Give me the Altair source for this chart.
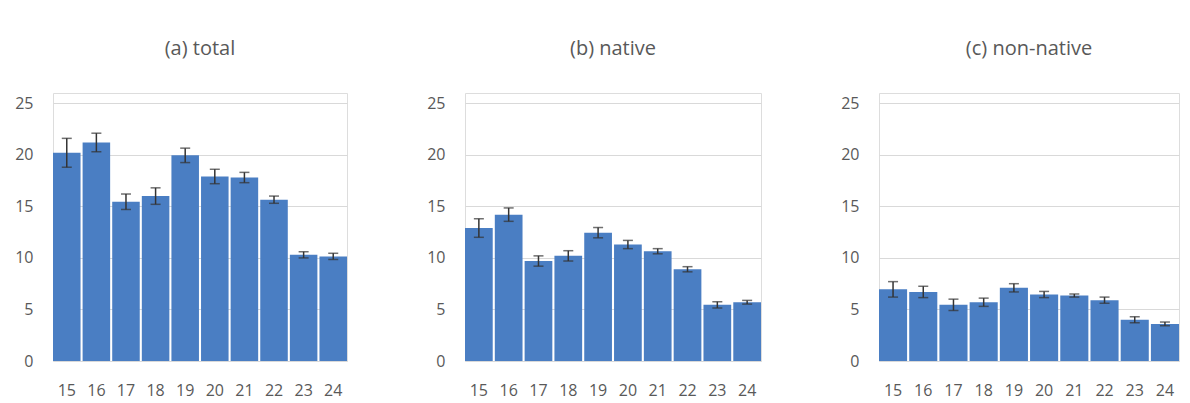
import altair as alt
import pandas as pd

categories = ["15", "16", "17", "18", "19", "20", "21", "22", "23", "24"]

total_vals = [20.2, 21.2, 15.45, 16.0, 19.95, 17.9, 17.8, 15.65, 10.3, 10.15]
total_err = [1.4, 0.9, 0.75, 0.8, 0.7, 0.7, 0.5, 0.35, 0.3, 0.3]

native_vals = [12.9, 14.2, 9.7, 10.2, 12.45, 11.3, 10.65, 8.9, 5.45, 5.7]
native_err = [0.9, 0.65, 0.5, 0.5, 0.5, 0.4, 0.25, 0.25, 0.3, 0.18]

nonnative_vals = [6.95, 6.7, 5.45, 5.7, 7.1, 6.45, 6.35, 5.9, 4.0, 3.6]
nonnative_err = [0.75, 0.55, 0.55, 0.4, 0.4, 0.3, 0.15, 0.3, 0.3, 0.18]

titles = ["(a) total", "(b) native", "(c) non-native"]
panels = [(total_vals, total_err), (native_vals, native_err), (nonnative_vals, nonnative_err)]
widths = [294, 296, 300]

BAR = "#4a7ec3"
GREY = "#595959"
FONT = "Open Sans"


def panel(title, vals, errs, w):
    df = pd.DataFrame({
        "cat": categories,
        "val": vals,
        "lo": [v - e for v, e in zip(vals, errs)],
        "hi": [v + e for v, e in zip(vals, errs)],
    })
    x = alt.X("cat:N", sort=categories,
              scale=alt.Scale(paddingInner=0.07, paddingOuter=0.0),
              axis=alt.Axis(title=None, labelAngle=0, ticks=False, domain=False,
                            labelPadding=21, labelFontSize=16, labelColor=GREY,
                            labelFont=FONT))
    y = alt.Y("val:Q", scale=alt.Scale(domain=[0, 25]),
              axis=alt.Axis(title=None, values=[0, 5, 10, 15, 20, 25], ticks=False,
                            domain=False, labelPadding=20, labelFontSize=16,
                            labelColor=GREY, labelFont=FONT, gridColor="#d9d9d9"))
    bars = alt.Chart(df).mark_bar(color=BAR).encode(x=x, y=y)
    rule = alt.Chart(df).mark_rule(color="#333333", strokeWidth=1.5).encode(
        x=alt.X("cat:N", sort=categories), y="lo:Q", y2="hi:Q")
    cap = alt.Chart(df).mark_tick(color="#333333", thickness=1.5, size=10,
                                  orient="horizontal").encode(
        x=alt.X("cat:N", sort=categories), y="hi:Q")
    cap_lo = alt.Chart(df).mark_tick(color="#333333", thickness=1.5, size=10,
                                     orient="horizontal").encode(
        x=alt.X("cat:N", sort=categories), y="lo:Q")
    return alt.layer(bars, rule, cap, cap_lo).properties(
        width=w, height=268,
        title=alt.TitleParams(title, fontSize=20, font=FONT, color=GREY,
                              fontWeight="normal", offset=34, anchor="middle"))


charts = [panel(t, v, e, w) for t, (v, e), w in zip(titles, panels, widths)]

chart = alt.hconcat(*charts, spacing=78).properties(
    padding={"left": 14, "top": 38, "right": 4, "bottom": 0}
).configure_view(stroke=None).configure(background="white")

chart.save("out.html", embed_options={"renderer": "svg", "actions": False})
